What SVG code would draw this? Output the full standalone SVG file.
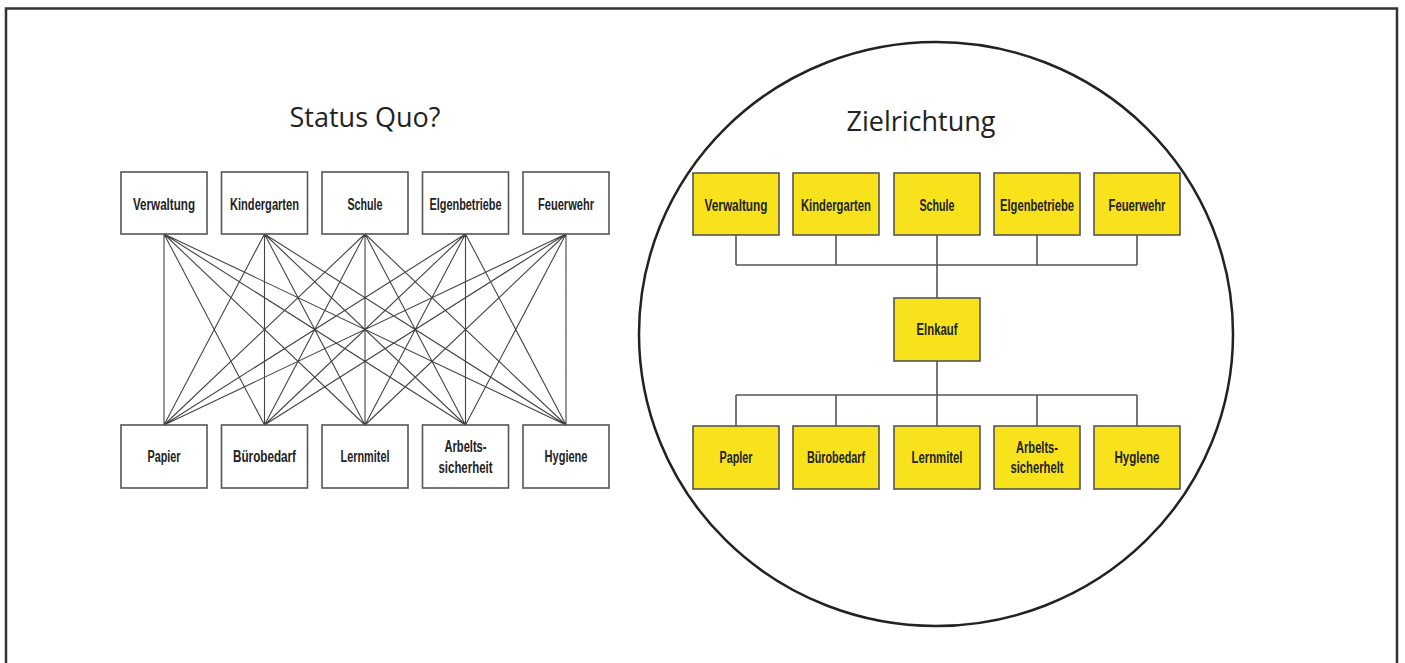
<svg xmlns="http://www.w3.org/2000/svg" width="1405" height="663" viewBox="0 0 1405 663">
<style>
.box{fill:#fff;stroke:#555;stroke-width:1.6}
.ybox{fill:#f7e21b;stroke:#555;stroke-width:1.6}
.lbl{font-family:"Liberation Sans Narrow","Liberation Sans",Arial,sans-serif;font-weight:bold;font-size:16px;fill:#222;text-anchor:middle}
.title{font-family:"Open Sans","Noto Sans",sans-serif;font-size:27px;fill:#222;text-anchor:middle}
.conn path{stroke:#444;stroke-width:1.1;fill:none}
.conn2 path{stroke:#555;stroke-width:1.6;fill:none}
</style>
<rect x="0" y="0" width="1405" height="663" fill="#fff"/>
<path d="M6 663 V8.5 H1397 V663" fill="none" stroke="#333" stroke-width="2.5"/>
<text class="title" x="365" y="127">Status Quo?</text>
<text class="title" x="921" y="131">Zielrichtung</text>
<ellipse cx="936" cy="334" rx="297" ry="292" fill="none" stroke="#222" stroke-width="2.5"/>

<g id="connectors-left" class="conn">
<path d="M164 234 L164 425 M164 234 L264.5 425 M164 234 L365 425 M164 234 L465.5 425 M164 234 L566 425
M264.5 234 L164 425 M264.5 234 L264.5 425 M264.5 234 L365 425 M264.5 234 L465.5 425 M264.5 234 L566 425
M365 234 L164 425 M365 234 L264.5 425 M365 234 L365 425 M365 234 L465.5 425 M365 234 L566 425
M465.5 234 L164 425 M465.5 234 L264.5 425 M465.5 234 L365 425 M465.5 234 L465.5 425 M465.5 234 L566 425
M566 234 L164 425 M566 234 L264.5 425 M566 234 L365 425 M566 234 L465.5 425 M566 234 L566 425"/>
</g>
<g id="connectors-right" class="conn2">
<path d="M736 235 V265 M836 235 V265 M1037 235 V265 M1137 235 V265 M736 265 H1137 M937 235 V298"/>
<path d="M937 361 V426 M736 395 H1137 M736 395 V426 M836 395 V426 M1037 395 V426 M1137 395 V426"/>
</g>

<g id="l-verwaltung"><rect class="box" x="121" y="172" width="86" height="62"/><text class="lbl" x="164" y="210" textLength="62" lengthAdjust="spacingAndGlyphs">Verwaltung</text></g>
<g id="l-kindergarten"><rect class="box" x="221.5" y="172" width="86" height="62"/><text class="lbl" x="264.5" y="210" textLength="69" lengthAdjust="spacingAndGlyphs">Kindergarten</text></g>
<g id="l-schule"><rect class="box" x="322" y="172" width="86" height="62"/><text class="lbl" x="365" y="210" textLength="35" lengthAdjust="spacingAndGlyphs">Schule</text></g>
<g id="l-eigenbetriebe"><rect class="box" x="422.5" y="172" width="86" height="62"/><text class="lbl" x="465.5" y="210" textLength="72" lengthAdjust="spacingAndGlyphs">Elgenbetriebe</text></g>
<g id="l-feuerwehr"><rect class="box" x="523" y="172" width="86" height="62"/><text class="lbl" x="566" y="210" textLength="56" lengthAdjust="spacingAndGlyphs">Feuerwehr</text></g>

<g id="l-papier"><rect class="box" x="121" y="425" width="86" height="63"/><text class="lbl" x="164" y="462" textLength="33" lengthAdjust="spacingAndGlyphs">Papier</text></g>
<g id="l-buerobedarf"><rect class="box" x="221.5" y="425" width="86" height="63"/><text class="lbl" x="264.5" y="462" textLength="63" lengthAdjust="spacingAndGlyphs">Bürobedarf</text></g>
<g id="l-lernmittel"><rect class="box" x="322" y="425" width="86" height="63"/><text class="lbl" x="365" y="462" textLength="49" lengthAdjust="spacingAndGlyphs">Lernmitel</text></g>
<g id="l-arbeitssicherheit"><rect class="box" x="422.5" y="425" width="86" height="63"/><text class="lbl" x="465.5" y="452" textLength="42" lengthAdjust="spacingAndGlyphs">Arbelts-</text><text class="lbl" x="465.5" y="473" textLength="54" lengthAdjust="spacingAndGlyphs">sicherheit</text></g>
<g id="l-hygiene"><rect class="box" x="523" y="425" width="86" height="63"/><text class="lbl" x="566" y="462" textLength="43" lengthAdjust="spacingAndGlyphs">Hygiene</text></g>

<g id="r-verwaltung"><rect class="ybox" x="693" y="173" width="86" height="62"/><text class="lbl" x="736" y="211" textLength="63" lengthAdjust="spacingAndGlyphs">Verwaltung</text></g>
<g id="r-kindergarten"><rect class="ybox" x="793" y="173" width="86" height="62"/><text class="lbl" x="836" y="211" textLength="70" lengthAdjust="spacingAndGlyphs">Kindergarten</text></g>
<g id="r-schule"><rect class="ybox" x="894" y="173" width="86" height="62"/><text class="lbl" x="937" y="211" textLength="35" lengthAdjust="spacingAndGlyphs">Schule</text></g>
<g id="r-eigenbetriebe"><rect class="ybox" x="994" y="173" width="86" height="62"/><text class="lbl" x="1037" y="211" textLength="74" lengthAdjust="spacingAndGlyphs">Elgenbetriebe</text></g>
<g id="r-feuerwehr"><rect class="ybox" x="1094" y="173" width="86" height="62"/><text class="lbl" x="1137" y="211" textLength="57" lengthAdjust="spacingAndGlyphs">Feuerwehr</text></g>

<g id="r-einkauf"><rect class="ybox" x="894" y="298" width="86" height="63"/><text class="lbl" x="937" y="335" textLength="41" lengthAdjust="spacingAndGlyphs">Elnkauf</text></g>

<g id="r-papier"><rect class="ybox" x="693" y="426" width="86" height="63"/><text class="lbl" x="736" y="463" textLength="33" lengthAdjust="spacingAndGlyphs">Papler</text></g>
<g id="r-buerobedarf"><rect class="ybox" x="793" y="426" width="86" height="63"/><text class="lbl" x="836" y="463" textLength="58" lengthAdjust="spacingAndGlyphs">Bürobedarf</text></g>
<g id="r-lernmittel"><rect class="ybox" x="894" y="426" width="86" height="63"/><text class="lbl" x="937" y="463" textLength="51" lengthAdjust="spacingAndGlyphs">Lernmitel</text></g>
<g id="r-arbeitssicherheit"><rect class="ybox" x="994" y="426" width="86" height="63"/><text class="lbl" x="1037" y="453" textLength="42" lengthAdjust="spacingAndGlyphs">Arbelts-</text><text class="lbl" x="1037" y="473" textLength="53" lengthAdjust="spacingAndGlyphs">sicherhelt</text></g>
<g id="r-hygiene"><rect class="ybox" x="1094" y="426" width="86" height="63"/><text class="lbl" x="1137" y="463" textLength="45" lengthAdjust="spacingAndGlyphs">Hyglene</text></g>
</svg>
